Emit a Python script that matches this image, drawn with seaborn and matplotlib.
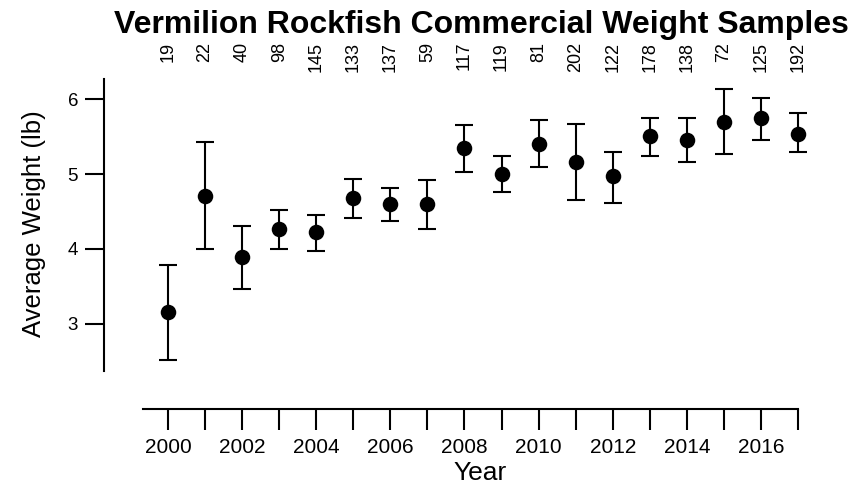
import matplotlib
matplotlib.use("Agg")
import matplotlib.pyplot as plt
import matplotlib.transforms as mtransforms
import seaborn as sns
import pandas as pd

years = list(range(2000, 2018))
mean_wt = [3.16, 4.71, 3.89, 4.27, 4.22, 4.68, 4.60, 4.60, 5.35, 5.00,
           5.40, 5.16, 4.97, 5.51, 5.46, 5.70, 5.75, 5.54]
upper_wt = [3.79, 5.43, 4.30, 4.52, 4.46, 4.94, 4.81, 4.92, 5.65, 5.24,
            5.72, 5.67, 5.29, 5.75, 5.75, 6.13, 6.02, 5.81]
lower_wt = [2.52, 4.00, 3.46, 4.00, 3.97, 4.41, 4.38, 4.27, 5.03, 4.76,
            5.10, 4.65, 4.62, 5.24, 5.16, 5.27, 5.46, 5.29]
n_samples = [19, 22, 40, 98, 145, 133, 137, 59, 117, 119, 81, 202, 122,
             178, 138, 72, 125, 192]
y_ticks = [3, 4, 5, 6]

df = pd.DataFrame({"Year": years, "Mean": mean_wt,
                   "Upper": upper_wt, "Lower": lower_wt, "N": n_samples})

sns.set_style("ticks")
plt.rcParams["font.family"] = ["Liberation Sans", "DejaVu Sans"]
for k in ["text.color", "axes.labelcolor", "xtick.color", "ytick.color",
          "axes.edgecolor", "xtick.labelcolor", "ytick.labelcolor"]:
    plt.rcParams[k] = "black"

W, H = 867, 486
fig = plt.figure(figsize=(W / 100, H / 100), dpi=100)
ax_l, ax_r, ax_t, ax_b = 104, 830, 79, 371
ax = fig.add_axes([ax_l / W, 1 - ax_b / H, (ax_r - ax_l) / W, (ax_b - ax_t) / H])

# error bars
yerr = [df["Mean"] - df["Lower"], df["Upper"] - df["Mean"]]
ax.errorbar(df["Year"], df["Mean"], yerr=yerr, fmt="none", ecolor="black",
            elinewidth=1.5, capsize=6.5, capthick=1.5, zorder=2)
sns.scatterplot(data=df, x="Year", y="Mean", ax=ax, color="black", s=125,
                marker="o", edgecolor="black", linewidth=0, zorder=3, legend=False)

# limits (pixel-derived)
ax.set_xlim(1998.273, 2017.863)
ax.set_ylim(2.3733, 6.2667)

for s in ["top", "right"]:
    ax.spines[s].set_visible(False)
ax.spines["left"].set_linewidth(1.5)
ax.spines["bottom"].set_linewidth(1.5)
ax.spines["bottom"].set_position(("outward", 27.4))
ax.spines["bottom"].set_bounds(1999.33, 2017)

ax.set_xticks(years)
ax.set_xticklabels([str(y) if y % 2 == 0 else "" for y in years])
ax.set_yticks(y_ticks)
ax.set_yticklabels([str(v) for v in y_ticks])
ax.tick_params(axis="x", length=15, width=1.5, pad=6, labelsize=15)
ax.tick_params(axis="y", length=13.7, width=1.5, pad=5, labelsize=13.5)

ax.set_xlabel("Year", fontsize=19)
ax.set_ylabel("Average Weight (lb)", fontsize=18.5, va="center")
ax.xaxis.set_label_coords((480 - ax_l) / (ax_r - ax_l), (ax_b - 461) / (ax_b - ax_t))
ax.yaxis.set_label_coords((34 - ax_l) / (ax_r - ax_l), (ax_b - 224) / (ax_b - ax_t))

# sample size labels above
trans = mtransforms.blended_transform_factory(ax.transData, ax.transAxes)
for yr, n in zip(df["Year"], df["N"]):
    ax.text(yr, (ax_b - 42) / (ax_b - ax_t), str(n), rotation=90, ha="center",
            va="top", fontsize=13, transform=trans, clip_on=False)

fig.text(481 / W, 1 - 33 / H, "Vermilion Rockfish Commercial Weight Samples",
         ha="center", va="baseline", fontsize=23, fontweight="bold")

fig.savefig("out.png", dpi=100)
